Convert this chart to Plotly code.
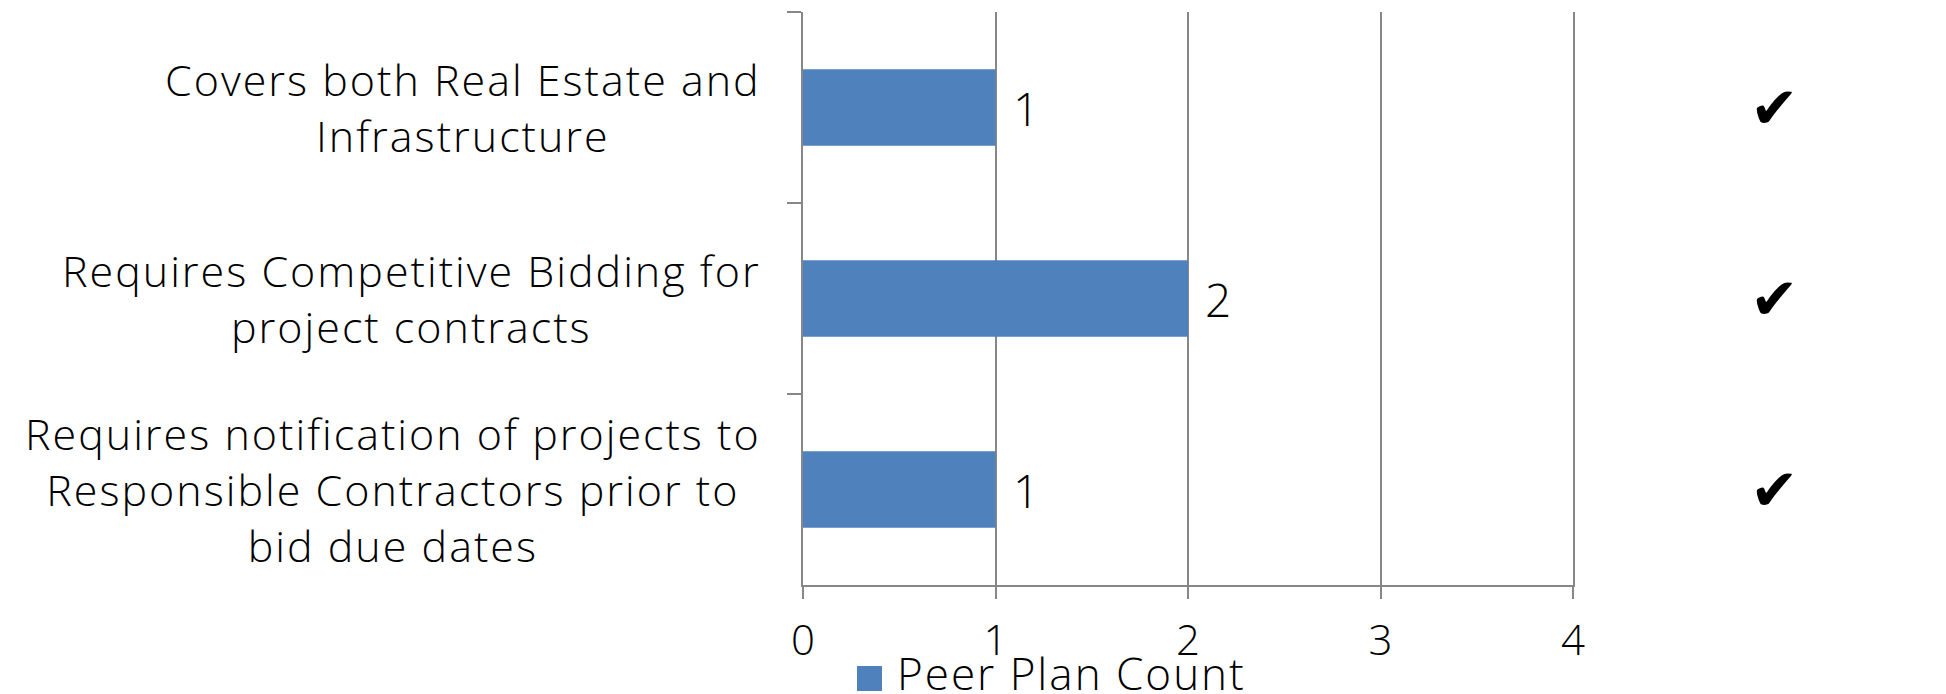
import plotly.graph_objects as go

# ---- data ----
categories = [
    "Covers both Real Estate and<br>Infrastructure",
    "Requires Competitive Bidding for<br>project contracts",
    "Requires notification of projects to<br>Responsible Contractors prior to<br>bid due dates",
]
peer_plan_count = [1, 2, 1]
plan_has_feature = [True, True, True]
x_ticks = [0, 1, 2, 3, 4]
series_name = "Peer Plan Count"

# ---- style ----
BAR = "#4F81BD"
GRID = "#878787"
FONT = "Open Sans"
W = 300


def spaced(text, px=2):
    return "<br>".join('<span style="letter-spacing:%dpx">%s</span>' % (px, ln)
                       for ln in text.split("<br>"))


fig = go.Figure()
fig.add_trace(go.Bar(
    y=categories, x=peer_plan_count, orientation="h", name=series_name,
    marker=dict(color=BAR, line=dict(width=0)), showlegend=False,
))

# data labels
for c, v in zip(categories, peer_plan_count):
    fig.add_annotation(x=v, y=c, xref="x", yref="y", text=str(v), showarrow=False,
                       xanchor="left", yanchor="middle", xshift=15,
                       font=dict(size=46, color="black", family=FONT, weight=W))

# category labels (centered multi-line, right-anchored)
for c in categories:
    fig.add_annotation(x=0, y=c, xref="paper", yref="y", text=spaced(c), showarrow=False,
                       xanchor="right", yanchor="middle", align="center", xshift=-40,
                       font=dict(size=43, color="black", family=FONT, weight=W))

# check marks
for c, has in zip(categories, plan_has_feature):
    if has:
        fig.add_annotation(x=1.262, y=c, xref="paper", yref="y", text="\u2714", showarrow=False,
                           xanchor="center", yanchor="middle",
                           font=dict(size=58, color="black", family="DejaVu Sans"))

# legend (swatch + label)
fig.add_shape(type="rect", xref="paper", yref="paper",
              xsizemode="pixel", ysizemode="pixel",
              xanchor=0.0701, yanchor=-0.1632, x0=0, x1=25, y0=-12.5, y1=12.5,
              fillcolor=BAR, line=dict(width=0))
fig.add_annotation(x=0.1195, y=-0.154, xref="paper", yref="paper", text=spaced(series_name),
                   showarrow=False, xanchor="left", yanchor="middle",
                   font=dict(size=44, color="black", family=FONT, weight=W))

fig.update_layout(
    width=1946, height=694,
    margin=dict(l=803, r=373, t=12, b=109, pad=0, autoexpand=False),
    paper_bgcolor="white", plot_bgcolor="white",
    bargap=0.6,
    font=dict(family=FONT, size=42, color="black", weight=W),
    showlegend=False,
    xaxis=dict(range=[0, 4], tickvals=x_ticks, ticktext=[str(t) for t in x_ticks],
               showgrid=True, gridcolor=GRID, gridwidth=2, zeroline=False,
               showline=True, linecolor=GRID, linewidth=2,
               ticks="outside", ticklen=12, tickcolor=GRID, tickwidth=2,
               ticklabelstandoff=6, tickfont=dict(size=42, family=FONT, weight=W)),
    yaxis=dict(type="category", autorange="reversed", showticklabels=False,
               showgrid=False, zeroline=False, mirror=True,
               showline=True, linecolor=GRID, linewidth=2,
               ticks="outside", tickson="boundaries", ticklen=14, tickcolor=GRID, tickwidth=2),
)

fig.write_html("out.html")
